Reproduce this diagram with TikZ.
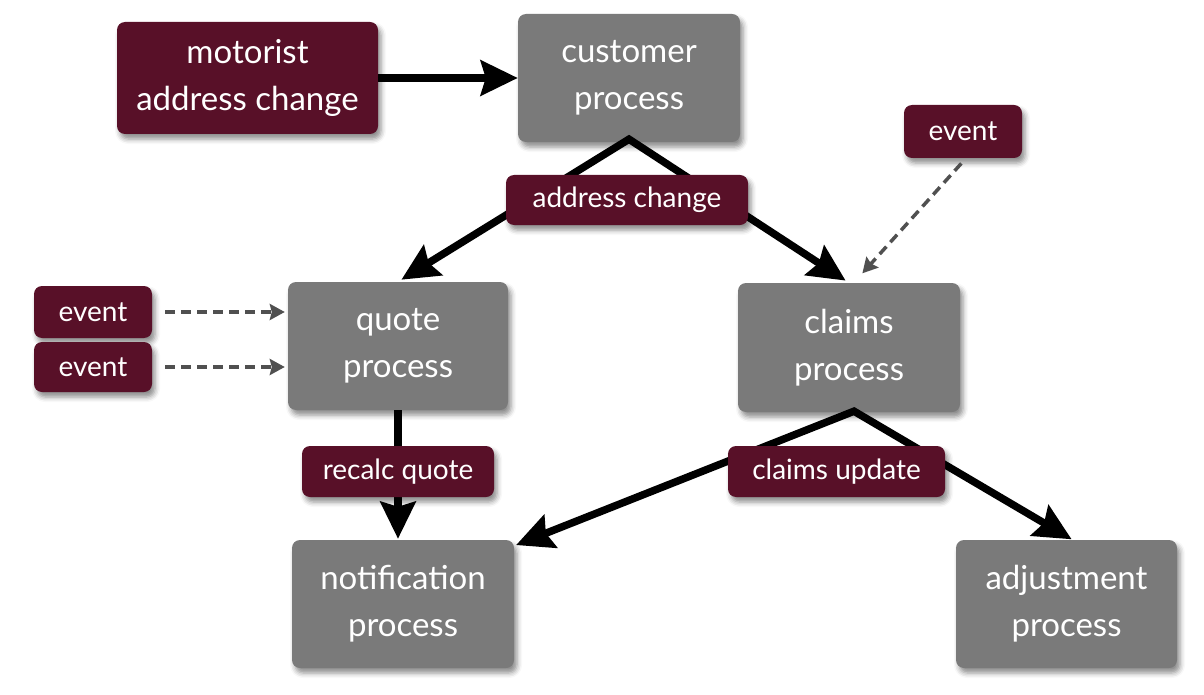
\documentclass[tikz,border=0pt]{standalone}
\usepackage{fontspec}
\setmainfont{Lato}
\usetikzlibrary{arrows.meta,shadows.blur,calc}
\definecolor{maroon}{RGB}{88,16,40}
\definecolor{procgray}{RGB}{122,122,122}
\definecolor{dashgray}{RGB}{80,80,80}
\begin{document}
\begin{tikzpicture}[x=1pt,y=-1pt,
  box/.style={rounded corners=8pt, inner sep=0pt, text=white, align=center,
    blur shadow={shadow xshift=3pt,shadow yshift=-5pt,shadow blur radius=5pt,shadow opacity=45}},
  proc/.style={box, fill=procgray, font=\fontsize{33}{47}\selectfont},
  msg/.style={box, fill=maroon, font=\fontsize{28}{38}\selectfont},
  bigtip/.tip={Stealth[length=37pt,width=35pt,inset=5pt]},
  bigarrow/.style={line width=7.5pt, line join=miter},
  dasharrow/.style={draw=dashgray, line width=3.5pt, dash pattern=on 10pt off 6pt,
    -{Stealth[length=15pt,width=16pt,inset=2pt]}}]
\useasboundingbox (0,0) rectangle (1204,695);
% boxes
\node[proc, fill=maroon, minimum width=261, minimum height=112] (motorist) at (247.5,78) {motorist\\address change};
\node[proc, minimum width=222, minimum height=128] (customer) at (629,78) {customer\\process};
\node[msg, minimum width=118, minimum height=53] (evTR) at (963,131.5) {event};
\node[proc, minimum width=220, minimum height=128] (quote) at (398,346) {quote\\process};
\node[proc, minimum width=222, minimum height=129] (claims) at (849,347.5) {claims\\process};
\node[msg, minimum width=118, minimum height=52] (evL1) at (93,312) {event};
\node[msg, minimum width=118, minimum height=50] (evL2) at (93,367) {event};
\node[proc, minimum width=222, minimum height=128] (notification) at (403,604) {notification\\process};
\node[proc, minimum width=221, minimum height=128] (adjustment) at (1066.5,604) {adjustment\\process};
% connectors
\draw[bigarrow, -bigtip] (motorist) -- (customer);
\draw[bigarrow, bigtip-bigtip, shorten <=4pt, shorten >=4pt] (quote.north) -- ($(customer.south)+(0,-3)$) -- (claims.north);
\draw[bigarrow, -bigtip, shorten >=1pt] (quote.south) -- (quote.south |- notification.north);
\draw[bigarrow, bigtip-bigtip, shorten <=2pt, shorten >=1pt] ($(notification.north east)+(0,6)$) -- ($(claims.south)+(5,-1)$) -- ($(adjustment.north)+(6,0)$);
\draw[dasharrow, shorten <=13pt, shorten >=3pt] (evL1.east) -- (quote.west |- evL1.east);
\draw[dasharrow, shorten <=13pt, shorten >=3pt] (evL2.east) -- (quote.west |- evL2.east);
\draw[dasharrow, shorten <=7pt, shorten >=2pt] ($(evTR.south)+(3,0)$) -- ($(claims.north)+(12,-8)$);
% labels on connectors
\node[msg, minimum width=242, minimum height=50] (addr) at (627,200) {address change};
\node[msg, minimum width=192, minimum height=51] (recalc) at (398,471.5) {recalc quote};
\node[msg, minimum width=217, minimum height=51] (cupd) at (836.5,471.5) {claims update};
\end{tikzpicture}
\end{document}
